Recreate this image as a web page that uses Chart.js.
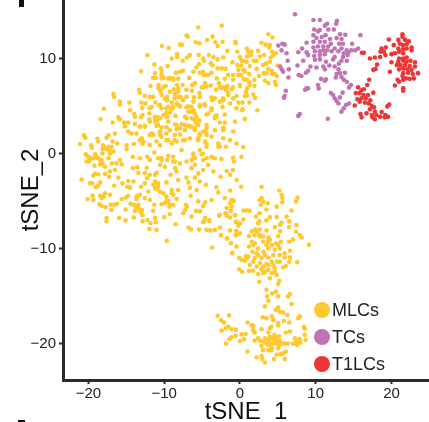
<!DOCTYPE html>
<html>
<head>
<meta charset="utf-8">
<title>tSNE</title>
<script src="https://cdn.jsdelivr.net/npm/chart.js@4"></script>
<style>
  html, body { margin: 0; padding: 0; background: #fff; overflow: hidden; }
  #wrap { position: relative; width: 429px; height: 422px; }
</style>
</head>
<body>
<div id="wrap"><canvas id="tsne"></canvas></div>
<script>
'use strict';

/* values, [tSNE_1, tSNE_2] */
const seriesNames = ['MLCs', 'TCs', 'T1LCs'];
const xTickValues = [-20, -10, 0, 10, 20];
const yTickValues = [-20, -10, 0, 10];

const t1lcPoints = [
  [21.45,12.6],[21.45,12.3],[19.65,12.05],[20.9,12],[21.8,12],[22.3,11.85],[20.3,11.45],[21.1,11.6],[21.5,11.45],[22,11.55],[22.65,11.2],
  [18.7,11.1],[19.25,11.2],[20.9,11.1],[21.5,11],[22,11.1],[22.65,10.9],[16.1,10.65],[16.35,10.65],[18.55,10.75],[19,10.75],[20,10.5],[20.45,10.6],[21,10.75],[21.55,10.6],
  [18.5,10.2],[19.2,10.4],[17.8,10.15],[17.15,10.05],[21,10.05],[21.55,10.05],[22,10.15],[20,9.65],[20.9,9.7],[21.55,9.8],[22,9.7],[22.5,9.8],[23.1,9.65],
  [18.1,9.4],[20.7,9.35],[21.2,9.35],[21.8,9.35],[22.4,9.25],[23.1,9.2],[17.6,8.85],[17.9,8.95],[19.8,8.65],[21,8.9],[21.55,9],[22.1,8.9],[22.65,8.85],[23.5,8.5],
  [21.55,8.5],[22.2,8.55],[22.8,8.4],[20.8,7.8],[21.45,8.2],[21.9,7.95],[22.4,7.9],[22.95,7.95],[21.55,7.8],[20.45,7.2],[21,7.6],[17.05,7.8],[16.8,7.25],[15.6,7],[16.35,6.8],[21.55,6.9],[21.55,6.65],
  [15.3,6.4],[15.8,6.4],[15.5,5.75],[16.05,6.7],[16.3,6.2],[16.9,6.2],[17.6,6.45],[16.6,5.85],[17.2,5.65],[16.05,5.85],[15.8,5.5],[16.5,5.4],[17,5.3],[15.15,5.1],
  [17.4,5.05],[17.7,4.9],[17.15,4.7],[17.8,4.45],[19.7,5.2],[19.45,5],[18.7,4.4],[18,4.1],[17.4,4.1],[16.7,4.27],[15.9,4.2],[16.05,3.85],[17.5,3.85],[17.8,3.65],[19.2,4.1],[19.55,3.9],[18.5,3.9],[19.1,3.85]
];

const tcPoints = [
  [7.26,14.7],[9.7,14.1],[10.55,14.1],[12.8,14],[12.7,13.7],[11.5,13.7],[11.2,13.5],[9.8,13.1],[10.55,13.04],[11.65,13.1],[12.4,13.1],
  [9.7,12.5],[10.3,12.9],[11.3,12.5],[13.2,12.6],[13.9,12.55],[15.9,12.5],[10.1,12.2],[10.8,12.3],[11.9,12.1],[12.75,12.2],[13.4,12.1],
  [5.6,11.6],[5.05,11.4],[5.9,11.5],[5.5,10.9],[6.15,10.6],[8.8,11.7],[9.7,11.8],[10.55,11.8],[11.2,11.8],[12,11.6],[13.1,11.6],[13.6,11.6],[14.8,11.6],
  [8.2,11.1],[7.7,10.7],[9.7,11.2],[10.3,11.3],[11,11.3],[11.65,11.3],[12.5,11.1],[13.4,11.1],[14.1,10.9],[15.6,11.1],[15.2,10.9],[14.7,10.9],
  [8.8,10.7],[9,10.4],[9.9,10.8],[10.55,10.8],[11,10.9],[11.5,10.9],[12.1,10.8],[13,10.8],[13.7,10.6],[14.3,10.65],[9.8,10.3],[10.55,10.4],[11.2,10.5],[12.5,10.2],[13.6,10.2],[14.2,10.4],
  [9.9,9.9],[10.55,9.95],[11.35,9.7],[12.3,9.95],[13.4,9.8],[14.1,9.8],[6.3,9.8],[8.35,9.8],[7.6,9.3],[5.3,9.2],[5.5,8.9],[5.7,8.65],[6.45,8.9],
  [9.3,9.2],[10.1,9.1],[11,9.2],[11.8,9.3],[12.5,9.2],[13.06,9.5],[11.2,8.9],[13,8.9],[9,8.75],[8.7,8.55],[7.75,8.3],[8.1,8.2],[6.4,8.05],[12.75,8.4],[13.2,8.5],[13.85,8.55],[12.65,8.05],[13.4,8.1],[13.7,7.8],[14.1,7.6],
  [10.7,7.9],[11.35,7.85],[11.2,7.7],[10.3,7.25],[10.4,6.9],[14.65,7.25],[14.4,7],[8.8,6.9],[8.6,6.75],[9,6.9],[6.05,6.65],[5.9,6.1],[5.8,5.9],
  [12,6.4],[12.3,6.2],[13.55,6.45],[12.5,5.85],[13.2,5.95],[12.75,5.6],[13,5.3],[14.4,5.3],[14,5.15],[13.7,4.8],[13.4,4.45],[7.9,4.2],[7.7,4],[11.6,3.7]
];

const mlcPoints = [
  /* right end of the upper lobe */
  [3.75,12.6],[4.3,12.25],[2.85,11.7],[3.4,11.5],[3.95,11.45],[3.85,11.2],[0.9,11.1],[1.55,10.75],[1.25,10.75],[2.4,10.85],[1.45,10.4],[0.95,10.25],[3.2,10.4],[2.65,10.25],[4.25,10.75],[4.75,10.6],[4.4,10.4],[4.05,10.15],
  [0.45,9.8],[1.85,9.8],[2.2,9.8],[3.95,9.7],[3.45,9.5],[0.15,9.3],[1.3,9.25],[3.05,9.35],[4.95,9.3],[2.2,8.95],[3.75,8.95],[4.2,8.75],[0.45,8.85],
  [0.15,8.3],[1.2,8.4],[2.5,8.2],[3.15,8.5],[3.5,8.5],[4.6,8.4],[4.85,8.2],[4.2,8.4],[0.5,7.9],[0.9,7.8],[1.9,7.8],[3.3,7.7],[3.75,7.45],[4.6,7.6],[4.75,7.25],[1.25,7.5],[0,7.25],[1.25,7.2],[1.9,7.15],[0.95,6.9],[0.8,6.55],[1.75,6.25],[2,5.9],[0.95,6.15],[0.65,6.1],[0.35,5.4],[1.25,5.4],[0.3,4.6],[2.3,4.6],[0.65,3.7],
  /* upper lobe */
  [-5.5,13.3],[-2.4,13.5],[-7.05,12.45],[-6.85,12.35],[-3.6,12.35],[-4.35,12],[-5.85,11.75],[-5.35,11.65],[-7.9,11.5],[-7.65,11.5],[-10.3,11.35],[-9.4,11.15],[-3.25,11.75],[-2.95,11.35],[-2.3,11.8],[-0.6,11.8],[-0.55,11.65],[-1.65,10.85],[-0.35,10.75],
  [-12.2,10.4],[-8.3,10.5],[-8.3,10.2],[-9,10.05],[-7.55,9.8],[-7,10.15],[-6.6,10.4],[-5.45,10.4],[-4.1,10.4],[-3.5,10.2],[-2.2,10.15],[-4.85,10.05],[-4.75,9.8],[-2.95,9.95],[0,10.2],[-1,9.65],[-0.35,9.35],[-11.3,9.4],[-9.55,9.25],[-10.45,9],[-13.05,8.7],[-5.4,9.45],[-5.75,9.1],[-3.85,9.55],[-3.6,9.3],[-2.95,9],[-2.4,9],[-1.9,8.95],[-0.2,8.85],
  [-11.2,8.5],[-10.35,8.65],[-8.45,8.55],[-7.9,8.65],[-7.5,8.75],[-6.15,8.65],[-5.3,8.55],[-4.75,8.3],[-4.2,8.3],[-3.75,8.55],[-1.55,8.3],[-0.9,8.3],[-0.2,8.3],[-11.45,8],[-11.1,8],[-10.1,8],[-9.45,7.95],[-8.8,7.8],[-8.15,7.9],[-6.7,8],[-5.95,7.45],[-4.6,7.45],[-3.05,7.95],[-2,7.9],[-0.9,7.8],
  [-11.8,7.15],[-10.75,7.25],[-9.8,7.15],[-8.3,7.25],[-7.55,7.25],[-6.3,7.25],[-3.85,7.2],[-2.75,7.45],[-4.85,7],[-2.4,6.95],[-1.65,7.15],[-0.9,7],[0,7.15],[-10.55,6.75],[-8.7,6.8],[-8.15,6.9],[-7.05,6.75],[-6.35,6.65],[-5.35,6.4],[-3.15,6.75],[-1.85,6.75],[-1.1,6.8],
  [-13.3,6.75],[-13.2,6.45],[-16.7,6.3],[-16.6,6],[-12.55,6.1],[-11.9,6],[-11.45,6],[-10.45,6.55],[-10.35,6.2],[-9.6,6],[-8.6,6.3],[-7.85,6],[-7.05,6],[-6.05,5.95],[-5.3,6],[-3.75,5.95],[-3.3,5.85],[-2.2,5.85],[-1.55,6.2],[-0.45,6.1],
  [-15.85,5.5],[-15.85,5.2],[-14.6,5.4],[-13,5.4],[-12.45,5.3],[-11.15,5.4],[-9.9,5.8],[-9,5.4],[-8.15,5.15],[-6.15,5.5],[-5.3,5.15],[-4.6,5.15],[-2.45,5.6],[-1.3,5.3],[-0.2,5.4],
  [-17.95,4.75],[-14.5,4.6],[-12.9,4.85],[-11.9,4.8],[-10.65,5.1],[-9.7,4.8],[-9,4.7],[-7.05,4.9],[-6.15,4.6],[-3.75,4.8],[-2.3,4.95],[-0.45,4.8],[0.35,4.7],
  [-18.4,3.65],[-16.05,3.85],[-15.85,3.65],[-16.8,3.3],[-13.95,4.2],[-13.85,3.9],[-13.05,3.85],[-11.95,4.25],[-11.2,3.75],[-10.8,3.85],[-10.1,4.1],[-9.25,4.35],[-8.5,4],[-7.25,3.9],[-6.35,4.45],[-5.75,3.9],[-4.4,4.15],[-3.1,3.9],[-2,4.15],[-0.65,3.4],[0.65,3.65],
  [-15.3,3.3],[-14.75,3.3],[-13.85,3.15],[-13.2,2.85],[-12.55,2.85],[-11.9,3.4],[-11,3.55],[-10.8,3.05],[-9.45,3.4],[-8.55,3.1],[-7.7,3.15],[-6.8,2.95],[-5.75,3.2],[-4.4,3.05],[-3.3,3.75],[-2.65,3.3],[-2,3.3],[-2.2,2.75],[-9.7,2.8],[-5.95,2.7],
  [-10.1,7],[-9.25,6.55],[-6.85,5],[-5.95,4.25],[-5.8,3.75],[-5.5,3.05],[-7.05,3.75],[-10.55,3.75],[-11.2,3.4],[-11.2,3.9],[-9.6,3.9],[-9.7,4.35],[-10.35,4.8],[-10.55,5.15],[-11.65,4.95],[-12.85,4.1],[-11.95,3.65],[-8.35,3.05],[-7.9,2.7],[-7.25,3.05],[-6.35,3.75],[-5.95,3.55],[-5.35,3.5],[-3.3,3.9],[-3.1,4.1],[-3.75,4.6],[-4.2,4.25],[-4.7,5.25],[-5.3,5],[-6.4,4.95],[-6.8,4.45],[-7.9,5],[-8.35,5.3],[-8.8,4.95],[-7.5,5.65],[-8.6,5.85],[-9.45,4.95],[-9.6,5.65],
  [-4.4,7.1],[-5.05,7],[-1.75,7],[-2.2,5.65],[-2.65,5.5],[-3.65,5.65],[-.9,5.85],[-1.55,6.4],[-2.2,7],[-2.65,7],[-4.85,8.65],[-4.4,8.3],[-8.8,7.95],[-9.25,7.95],[-10.35,8.3],[-10.35,7.95],[-10.75,6.9],[-8.15,6.55],[-8.15,6],[0.65,8.65],[0.65,7.8],[0.9,9.7],[1.1,10.75],[0.2,9.8],
  /* left and middle of the big blob */
  [-20.6,1.95],[-20.4,1.7],[-21.1,1.05],[-19.65,.9],[-19.55,.65],[-18.8,1.6],[-18.7,1.3],[-17.6,1.7],[-17.35,1.95],[-16.8,1.3],[-16.2,1.1],[-16.5,2.15],[-18.05,.9],[-17.35,.75],[-16.95,.75],[-18.1,.5],[-17.45,.5],[-18.15,.05],[-17.15,.05],[-16.7,.25],
  [-20.35,-.05],[-20,-.3],[-20.25,-.8],[-19.8,-.65],[-19.1,-.05],[-18.7,-.45],[-18.25,-.65],[-18.45,-1.1],[-18.1,-1.1],[-19.2,-1.25],[-17.35,-.45],[-15.85,-.65],[-15.6,-1.1],[-16.3,-1],[-16.9,-1],[-17.8,-1.35],[-17.15,-1.85],[-16.5,-1.7],[-19.15,-2.1],[-18.7,-2.15],[-19.35,-2.3],[-17.8,-2.1],[-17.25,-2.4],[-16.05,-2.5],
  [-20.9,-2.7],[-19.8,-3.1],[-19.5,-3.1],[-18.45,-3],[-18.7,-3.35],[-19,-3.5],[-16.6,-3.35],[-15.5,-3.1],[-14.75,-2.85],[-14.85,-3.45],[-14.5,-3.55],[-14.05,-2.9],
  [-19.45,-4.4],[-19.35,-4.85],[-20.1,-4.75],[-18.45,-4.4],[-18,-4.5],[-17.8,-4.15],[-17.15,-4.3],[-18.25,-4.65],[-15.6,-4.75],[-15.05,-4.6],[-14.75,-4.4],[-13.5,-4.4],[-13.2,-4.3],[-13.65,-4.75],[-12.1,-3.95],[-12.55,-4.65],[-11.9,-4.85],
  [-18.55,-5.3],[-18.25,-5.45],[-17.75,-5.6],[-17.05,-5.35],[-16.6,-5.35],[-16.2,-5.25],[-16.95,-5.9],[-15.1,-5.85],[-14.45,-5.25],[-14,-5.35],[-13.7,-5.55],[-13.4,-5.7],[-12.95,-5.9],[-13.85,-6],[-13.2,-6],[-11.3,-5.35],[-11.45,-6],[-10.35,-5.3],[-9.9,-5.2],[-9.3,-5.55],[-8.8,-5.35],
  [-17.6,-6.75],[-17.6,-7.1],[-15.95,-6.75],[-15.1,-7],[-14,-6.7],[-12.85,-6.45],[-12.85,-7.1],[-12.2,-6.95],[-11.8,-7.3],[-11.2,-6.75],[-11.1,-7.2],[-10,-6.65],[-9.25,-6.35],[-11.95,-7.9],[-11,-8],[-8.5,-7.4],[-9.65,-9.15],
  [-6.8,-7.75],[-6.45,-7.95],[-5.4,-7.95],[-4.4,-8],[-3.9,-8.05],[-3.3,-8],[-2.5,-8.55],[-1.3,-8.05],[-.5,-8.1],[-.5,-8.55],[-1.65,-8.9],[-1.2,-9.4],[-.45,-9.75],[-3.65,-9.85],[-1,-10.45],
  [-7.25,-5.9],[-7,-5.55],[-7.15,-5.35],[-7.5,-6.25],[-6.4,-6.6],[-5.8,-6],[-5.25,-6.05],[-4.6,-6.75],[-4.85,-7.2],[-4.05,-7.05],[-5.5,-5],[-4.6,-5.1],[-4.85,-5.5],[-3.75,-4.85],
  [-2.75,-6.5],[-1.9,-6.25],[-1.75,-6.5],[-1.3,-6.7],[-.65,-6.45],[-.45,-7.15],[0,-7.3],[-.2,-7.55],[.45,-6.9],[.45,-5.95],[.9,-5.95],[1.25,-6],[-2,-4.65],[-1.3,-5.2],[-1.1,-4.85],[-.8,-4.95],[-1.1,-5.55],[-1.2,-6],[-1.3,-3.85],[-3.1,-3.5],[-2.85,-4.05],[-.45,-2.75],[.15,-3.45],
  [-15.2,2.9],[-14.75,2.35],[-14.3,2.15],[-13.65,2.15],[-13,1.45],[-12.85,1.05],[-11.9,.95],[-11.45,2],[-11.65,2.15],[-14.95,.9],[-14.95,.5],[-14,1.05],[-14.15,-.3],[-13.2,-.45],[-12.25,-.3],[-11.9,-.65],[-11.3,.15],[-10.8,-.45],[-10.35,-.45],[-9.45,-.2],[-9.7,1.45],[-10.35,1.8],[-11,1.3],[-10.55,.9],[-9,1.1],[-8.35,1.3],[-7.7,.4],[-8.6,2],[-7.5,1.45],[-6.6,1.65],[-5.5,1.65],[-4.4,1.1],[-4.4,.75],[-2.85,.75],[-1.85,.75],[-1.3,1.45],[.45,.7],[-.45,1.1],[-5.3,.4],[-6.15,.05],[-4.85,.05],[-3.75,-.3],[-2.45,-.55],[-.9,-.4],[-.8,-.8],[.2,-.3],[-.9,-1.7],
  [-8.8,-.8],[-9.6,-.65],[-8.55,-1.5],[-7.9,-1],[-7.05,-.8],[-6.15,-.45],[-5.95,-1.15],[-6.4,-1.5],[-4.85,-.65],[-4.2,-1.15],[-3.3,-.45],[-8.35,-1.85],[-9.15,-2.2],[-10.55,-1.15],[-9.9,-1.35],[-11,-2],[-11.9,-2.2],[-12.3,-1.45],[-13.4,-2],[-14.15,-1.5],[-13.55,-1.4],
  [-12.55,-2],[-12.25,-2.55],[-11.2,-2.9],[-10.8,-3.1],[-11.45,-3.25],[-11,-3.7],[-12.55,-3.1],[-13.05,-3.45],[-9.7,-3],[-8.15,-2.75],[-7.05,-2.5],[-5.95,-2.5],[-5.5,-2.05],[-4.85,-1.7],[-3.5,-1.85],[-2.55,-2.4],[-1.75,-1.8],[-1.3,-2.2],[-6.8,-3],[-6.6,-3.6],[-5.7,-3.8],[-5.3,-2.9],[-4.5,-3.25],[-10.55,-3.95],[-10.1,-4.15],[-9,-3.8],[-8.15,-3.8],[-8.8,-4.3],[-9.7,-4.5],[-9.45,-4.95],[-8.35,-4.75],[-6.5,-4.4],
  [-13.2,2.87],[-12.55,2.95],[-11,2.95],[-10.35,2.77],[-9.25,2.5],[-8.35,2.6],[-7.25,2.5],[-5.95,2.5],[-4.85,2.35],[-4.4,2.7],[-3.3,2.5],[-2.2,2.5],[-.9,2.35],[-10.55,2.35],[-9.7,2.15],[-6.4,2.87],[-7.9,2.05],[-5.3,2],[-3.75,1.82],[-2.2,1.65],
  [-12.95,1.65],[-12.75,1.3],[-13.2,1.45],[-11.9,2],[-10.55,2],[-9.45,1.45],[-8.6,1.45],[-7.25,1.45],[-5.5,1.45],[-5.3,2.15],[-4.6,2.35],[-4.4,2],[-4.6,1.3],[-2.85,1.1],[-2.65,.75],[-6.15,-.1],[-5.95,-.45],[-6.4,-.65],[-5.05,-.05],[-4.4,-.45],[-8.8,-.3],[-8.55,-.8],[-10.35,-.65],[-11.2,-2.2],[-11,-3.1],[-10.8,-3.45],[-11.2,-3.6],[-9.7,-5],[-9.25,-5.35],[-9,-4.15],[-13.65,-4.5],[-13.4,-5.35],[-13.65,-5.8],[-13.05,-6.15],[-19.35,-.45],[-18.9,-.3],[-18.45,-.65],[-18.25,-.95],[-17.8,.6],[-17.15,.3],[-20,-.8],[-19.8,-.4],
  /* lower arm */
  [2.85,-3.45],[5.2,-3.85],[5.5,-4.3],[5.6,-4.65],[5.6,-5.1],[7.6,-4.6],[7.4,-5],[4.85,-5.55],[6.8,-5.95],[2.6,-4.85],[2.85,-4.65],[3.05,-5],[2.75,-5.35],[3.65,-5.2],[3.5,-5.85],[2.6,-6.25],[2.1,-6.6],[3.95,-6.65],[3.5,-7],[4.85,-6.65],[6.15,-6.6],[5.5,-7.25],[5.3,-7.45],[6.5,-7.1],[6.5,-7.7],[7.45,-7.5],[2.4,-7.3],[2.55,-7.1],[2,-7.95],[1.55,-8.15],[2.6,-7.95],[3.5,-8.05],[4.6,-7.7],[5.3,-8.15],[7.4,-8.2],[1.2,-8.65],[1.95,-8.55],[2.6,-8.55],[3.05,-8.7],[3.75,-8.8],[5.05,-8.65],[7.9,-8.55],[8.15,-8.8],[7,-9],[6.5,-9.25],[9.1,-9.55],
  [1.55,-9.25],[1.95,-9.4],[3.05,-9.25],[3.95,-9.05],[4.75,-9.4],[5.4,-9.25],[1.2,-9.75],[2.4,-9.95],[3.5,-9.6],[5.25,-9.95],[6.6,-10.2],[5.9,-10.45],[2.2,-10.45],[3.1,-10.3],[3.75,-9.95],[4.6,-10.1],[1.65,-10.3],[.8,-10.75],[-.1,-10.95],[.2,-11.15],[1.1,-10.8],[1.95,-10.95],[2.85,-10.95],[3.75,-10.9],[4.4,-10.65],[5.25,-10.65],[6.6,-10.9],[5.9,-10.9],
  [.65,-11.25],[1.3,-11.7],[1.75,-11.35],[2.65,-11.5],[3.5,-11.6],[4.4,-11.7],[4.9,-11.35],[6.5,-11.35],[7.55,-11.4],[6.05,-11.8],[-.1,-12.15],[.3,-12.4],[1.2,-12.3],[1.75,-12.3],[2.85,-12.15],[3.75,-12.2],[4.6,-12.05],[5.7,-11.95],[2.4,-12.65],[3.1,-12.55],[4.2,-12.55],[4.85,-12.75],[3.95,-13.1],[2.55,-13.45],[5.2,-13.35],[5.05,-13.7],
  [2.4,-10.65],[3.3,-10.65],[4.2,-11.35],[3.75,-11.7],[3.1,-11.85],[2.2,-11.85],[.9,-11],[5.25,-11.35],[4.6,-12.4],[3.3,-12.4],[2.65,-8.7],[2.2,-8.2],[3.75,-9.25],[4.2,-9.6],[5.05,-9.6],[1.75,-9.6],
  [3.5,-14.3],[4.75,-14.5],[4.25,-14.7],[6.6,-14.75],[6.35,-15],[3.6,-15],[5.05,-15],[3.75,-15.45],[3.3,-16.05],[5.05,-16.15],[4.75,-16.4],[5.25,-16.6],[5.7,-16.7],[6.25,-16.95],[6.8,-15.8],
  [-2.95,-17.05],[-1.45,-17],[-2.5,-17.5],[-2.1,-17.75],[7.7,-17.3],[7.9,-17.1],[3,-17.2],[3.5,-17.3],[4.2,-17.1],[4.4,-17.5],[5.05,-17.8],[5.05,-18.05],[5.8,-17.6],[1,-17.75],[1.55,-18.05],[1.75,-18.1],[6.5,-17.75],[8.45,-18.2],[8.55,-18.4],
  [-1.55,-18.2],[-1.85,-18.35],[-2.4,-18.6],[-1.1,-18.45],[-.55,-18.5],[1.75,-18.55],[1.95,-18.8],[2.85,-18.45],[3.95,-18.35],[4.15,-18.2],[3.75,-18.8],[4.55,-19.05],[5.15,-19.2],[6.05,-18.8],[6.6,-18.7],[8.55,-19.05],[8.65,-19.6],[.2,-19],[.75,-18.95],[-.55,-19.15],[-1.1,-19.3],[-1.4,-19.5],[-1.85,-19.95],[0,-19.7],[.55,-19.5],[1.95,-19.65],[2.65,-19.65],[3.3,-19.4],[3.1,-19.75],[3.75,-19.6],[4.5,-19.5],[5.25,-19.65],[5.9,-19.95],[6.35,-19.95],[7.25,-19.4],[7.45,-19.75],[7.9,-19.5],[8,-19.85],[7,-19.95],[7.55,-20.1],
  [2.85,-20.2],[3.95,-20.1],[4.6,-19.95],[5.25,-20.1],[3.05,-20.65],[3.75,-20.65],[4.15,-20.7],[5.05,-20.45],[6.05,-20.8],[5.7,-21],[1,-20.8],[4.85,-21.15],[5.35,-21.1],[2.2,-21.4],[2.85,-21.25],[2.95,-21.6],[3.3,-21.95],[4.5,-21.6],[5.9,-21.6],
  [3.95,-19.25],[4.2,-19.4],[4.6,-19.25],[4.85,-19.6],[4.2,-19.95],[3.75,-20.1],[5.5,-19.95],[3.5,-19.95],[2.4,-19.4],[7.25,-19.95],[7.7,-19.6],[4.2,-20.45],[5.05,-19.95],
  [-.95,-4.85],[-1.25,-5.2],[-1.75,-5.7],[-1.85,-6.25],[-.65,-6.45],[-.55,-7.15],[-2.65,-6.4],[-4.75,-7.1],[-4.05,-7],[-2.65,-7.75],[0,-8.35],[-2.5,-8.55],[-.55,-8.55],[-1.75,-8.9],[-1,-10.4]
];

const seriesColors = ['#FFC82E', '#C174B2', '#EE3535'];
const axisColor = '#2b2b2b';
const textColor = '#222222';
const fontFamily = '"Liberation Sans", Arial, sans-serif';

const fmt = v => String(v).replace('-', '\u2212');
const toXY = pts => pts.map(p => ({ x: p[0], y: p[1] }));

/* legend dots in the empty corner, plus the cropped panel letter marks */
const cornerMarks = {
    id: 'cornerMarks',
    afterDraw(chart) {
        const c = chart.ctx;
        c.save();
        seriesNames.forEach((name, i) => {
            const y = 310 + i * 27;
            c.beginPath();
            c.arc(322, y, 8, 0, Math.PI * 2);
            c.fillStyle = seriesColors[i];
            c.fill();
            c.fillStyle = textColor;
            c.font = '18px ' + fontFamily;
            c.textBaseline = 'middle';
            c.fillText(name, 332, y + 1);
        });
        c.fillStyle = '#111';
        c.fillRect(19, 0, 5, 7);
        c.fillRect(18, 420, 7, 2);
        c.restore();
    },
};

const ctx = document.getElementById('tsne').getContext('2d');
new Chart(ctx, {
    type: 'scatter',
    data: {
        datasets: [
            { label: seriesNames[2], data: toXY(t1lcPoints), backgroundColor: seriesColors[2] },
            { label: seriesNames[1], data: toXY(tcPoints), backgroundColor: seriesColors[1] },
            { label: seriesNames[0], data: toXY(mlcPoints), backgroundColor: seriesColors[0] },
        ],
    },
    options: {
        responsive: true,
        maintainAspectRatio: false,
        animation: false,
        layout: { padding: 0, autoPadding: false },
        elements: { point: { radius: 2.3, borderWidth: 0 } },
        plugins: { legend: { display: false }, tooltip: { enabled: false } },
        scales: {
            x: {
                type: 'linear',
                min: -23.35,
                max: 24.95,
                afterBuildTicks: axis => { axis.ticks = xTickValues.map(value => ({ value })); },
                afterFit: axis => { axis.height = 42; axis.paddingLeft = 0; axis.paddingRight = 0; },
                grid: { display: true, drawOnChartArea: false, drawTicks: true, tickLength: 4, tickColor: axisColor, tickWidth: 2 },
                border: { display: true, color: axisColor, width: 3 },
                ticks: { color: textColor, font: { family: fontFamily, size: 15 }, padding: 1, maxRotation: 0, callback: fmt },
                title: { display: true, text: 'tSNE_1', color: '#111', font: { family: fontFamily, size: 24 }, padding: { top: 0, bottom: -5 } },
            },
            y: {
                type: 'linear',
                min: -23.8,
                max: 16.2,
                afterBuildTicks: axis => { axis.ticks = yTickValues.map(value => ({ value })); },
                afterFit: axis => { axis.width = 63; axis.paddingTop = 0; axis.paddingBottom = 0; },
                grid: { display: true, drawOnChartArea: false, drawTicks: true, tickLength: 4, tickColor: axisColor, tickWidth: 2 },
                border: { display: true, color: axisColor, width: 3 },
                ticks: { color: textColor, font: { family: fontFamily, size: 15 }, padding: 3, callback: fmt },
                title: { display: true, text: 'tSNE_2', color: '#111', font: { family: fontFamily, size: 24 }, padding: { top: 17, bottom: 0 } },
            },
        },
    },
    plugins: [cornerMarks],
});
</script>
</body>
</html>
